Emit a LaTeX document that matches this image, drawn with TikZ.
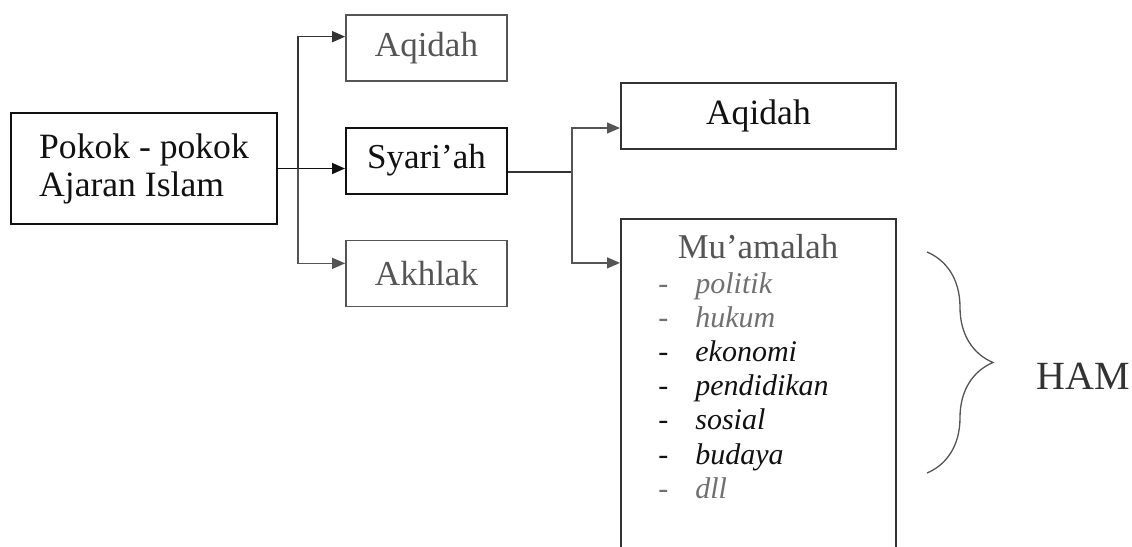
\documentclass[tikz,border=0pt]{standalone}
\usepackage{fontspec}
\setmainfont{Liberation Serif}
\usepackage{tikz}
\usetikzlibrary{
  arrows.meta,
  positioning,
  calc,
  decorations.pathreplacing
}
\definecolor{ajInk}{HTML}{111111}
\definecolor{ajLine}{HTML}{333333}
\definecolor{ajFade}{HTML}{555555}
\definecolor{ajSoft}{HTML}{707070}
\newcommand{\ajdash}{\makebox[18.5pt][l]{-}}
\tikzset{
  ajnode/.style={
    draw, minimum height=33pt, minimum width=80.5pt, inner sep=2pt,
    font=\fontsize{17.5}{19}\selectfont, align=center
  },
  mainbox/.style={ajnode, draw=ajInk, text=ajInk, line width=1pt},
  fadebox/.style={ajnode, draw=ajFade, text=ajFade, line width=0.85pt},
  widebox/.style={ajnode, draw=ajLine, text=ajInk, line width=0.9pt, minimum width=137.5pt},
  pokokbox/.style={mainbox, minimum width=133pt, minimum height=55.5pt,
    font=\fontsize{17.8}{19}\selectfont, align=left},
  muhead/.style={anchor=base, font=\fontsize{17.4}{19}\selectfont, text=ajFade},
  itemtext/.style={anchor=base west, inner sep=0pt,
    font=\fontsize{15}{17}\selectfont\itshape, text=ajInk},
  itemfade/.style={itemtext, text=ajSoft},
  hamtext/.style={font=\fontsize{20}{22}\selectfont, text=ajLine},
  flow/.style={-{Triangle[length=6.5pt,width=5.5pt]}, line width=0.9pt, ajInk},
  branch/.style={-{Triangle[length=6.5pt,width=5.5pt]}, line width=0.75pt, ajLine},
  fadeflow/.style={-{Triangle[length=6.5pt,width=5.5pt]}, line width=0.7pt, ajFade},
  netline/.style={line width=0.75pt, ajLine},
  hambrace/.style={decorate, decoration={brace, amplitude=33pt}, line width=0.65pt, ajFade}
}

\begin{document}
\begin{tikzpicture}[x=0.5pt, y=-0.5pt, node distance=22.5pt]
  \useasboundingbox (0,0) rectangle (1132,547);
  % first level
  \node[pokokbox] (pokok) at (144,168.5) {Pokok - pokok\\Ajaran Islam};
  \node[mainbox, right=33.5pt of pokok, yshift=4pt] (syariah) {Syari'ah};
  \node[fadebox, above=of syariah] (aqidahA) {Aqidah};
  \node[fadebox, below=of syariah] (akhlak) {Akhlak};
  \coordinate (fork1) at (298,168.5);
  \draw[flow] (pokok.east) -- (pokok.east -| syariah.west);
  \draw[branch] (fork1) |- ([yshift=5.5pt]aqidahA.west);
  \draw[fadeflow] (fork1) |- ([yshift=5pt]akhlak.west);
  % second level
  \node[widebox, right=56pt of syariah, yshift=22.25pt, font=\fontsize{17.8}{19}\selectfont] (aqidahB) {Aqidah};
  \node[widebox, below=34pt of aqidahB, minimum height=171.5pt] (muamalah) {};
  \coordinate (fork2) at (572,172);
  \draw[netline] ([yshift=-5.75pt]syariah.east) -- (fork2);
  \draw[fadeflow] (fork2) |- ([yshift=-6pt]aqidahB.west);
  \draw[fadeflow] (fork2) |- ([yshift=-22.5pt]muamalah.north west);
  % isi mu'amalah
  \node[muhead] (muhead) at (758,258) {Mu'amalah};
  \node[itemfade] (politik) at (658,293) {\ajdash politik};
  \node[itemfade] (hukum) at (658,327.2) {\ajdash hukum};
  \node[itemtext] (ekonomi) at (658,361.4) {\ajdash ekonomi};
  \node[itemtext] (pendidikan) at (658,395.6) {\ajdash pendidikan};
  \node[itemtext] (sosial) at (658,429.8) {\ajdash sosial};
  \node[itemtext] (budaya) at (658,464) {\ajdash budaya};
  \node[itemfade] (dll) at (658,498.2) {\ajdash dll};
  % HAM
  \coordinate (bracetop) at (927,252);
  \coordinate (bracebot) at (927,473);
  \draw[hambrace] (bracetop) -- (bracebot);
  \node[hamtext] (ham) at (1083,376) {HAM};
\end{tikzpicture}
\end{document}
